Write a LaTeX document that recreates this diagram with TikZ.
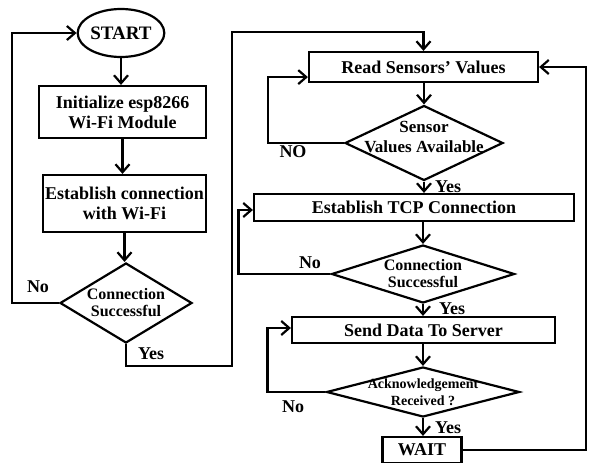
\documentclass[tikz,border=0pt]{standalone}
\usepackage{fontspec}
\setmainfont{Liberation Serif}
\usetikzlibrary{arrows.meta,shapes.geometric}

\tikzset{
	heavy/.style={line width=2.2pt},
	box/.style={draw, heavy, rectangle, inner sep=2pt, align=center, font=\fontsize{18}{20}\selectfont\bfseries},
	decision/.style={draw, heavy, diamond, inner sep=0pt},
	dtext/.style={align=center, inner sep=0pt, font=\fontsize{16}{17}\selectfont\bfseries},
	flow/.style={heavy, -{Straight Barb[length=8pt,width=14pt]}},
	lbl/.style={font=\fontsize{18}{20}\selectfont\bfseries, inner sep=0pt}
}

\begin{document}
\begin{tikzpicture}[x=1pt, y=-1pt]

			\useasboundingbox (0, 0) rectangle (589, 463);

			% left column
			\node[draw, heavy, ellipse, minimum width=81pt, minimum height=48pt, inner sep=0pt,
				font=\fontsize{19}{20}\selectfont\bfseries] (start) at (121, 33) {START};
			\node[box, minimum width=167pt, minimum height=52pt] (init) at (122.5, 112)
				{Initialize esp8266\\Wi-Fi Module};
			\node[box, minimum width=163pt, minimum height=57pt] (wifi) at (124.5, 203.5)
				{Establish connection\\with Wi-Fi};
			\node[decision, minimum width=132pt, minimum height=80pt,
				label={[dtext]center:Connection\\Successful}] (conn1) at (126, 303) {};

			% right column
			\node[box, minimum width=229pt, minimum height=30pt] (read) at (423.5, 67) {Read Sensors' Values};
			\node[decision, minimum width=158pt, minimum height=75pt,
				label={[dtext, font=\fontsize{17}{20}\selectfont\bfseries, yshift=6pt]center:Sensor\\Values Available}] (avail) at (424, 143) {};
			\node[box, minimum width=320pt, minimum height=27pt] (tcp) at (414, 207.5) {Establish TCP Connection};
			\node[decision, minimum width=183pt, minimum height=58pt,
				label={[dtext]center:Connection\\Successful}] (conn2) at (423, 274) {};
			\node[box, minimum width=263pt, minimum height=26pt] (send) at (423.5, 330) {Send Data To Server};
			\node[decision, minimum width=193pt, minimum height=50pt,
				label={[dtext, font=\fontsize{14}{17}\selectfont\bfseries]center:Acknowledgement\\Received ?}] (ack) at (423, 392) {};
			\node[box, minimum width=79pt, minimum height=26pt] (wait) at (422, 450) {WAIT};

			\coordinate (lft) at (12, 0);
			\coordinate (bend) at (232, 366);
			\coordinate (top) at (232, 32);
			\coordinate (rgt) at (586, 0);

			% straight arrows
			\draw[flow] (start.south) -- (start.south |- init.north);
			\draw[flow] (init.south) -- (init.south |- wifi.north);
			\draw[flow] (wifi.south) -- (wifi.south |- conn1.north);
			\draw[flow] (read.south -| avail.north) -- (avail.north);
			\draw[flow] (avail.south) -- (avail.south |- tcp.north);
			\draw[flow] (tcp.south -| conn2.north) -- (conn2.north);
			\draw[flow] (conn2.south) -- (conn2.south |- send.north);
			\draw[flow] (send.south -| ack.north) -- (ack.north);
			\draw[flow] (ack.south) -- (ack.south |- wait.north);

			% loops
			\draw[flow] (conn1.west) -- (conn1.west -| lft) |- (start.west);
			\draw[flow] (conn1.south) |- (bend) -- (top) -| (read.north);
			\draw[flow] (avail.west) -- ++(-76, 0) |- ([yshift=6pt]read.south west);
			\draw[flow] (conn2.west) -- ++(-92, 0) |- ([yshift=-2.5pt]tcp.west);
			\draw[flow] (ack.west) -- ++(-58, 0) |- ([yshift=2pt]send.west);
			\draw[flow] (wait.east) -- (wait.east -| rgt) |- (read.east);

			% labels
			\node[lbl] (no1) at (38, 287) {No};
			\node[lbl] (yes1) at (151, 354) {Yes};
			\node[lbl] (no2) at (293, 152) {NO};
			\node[lbl] (yes2) at (448, 187) {Yes};
			\node[lbl] (no3) at (310, 263) {No};
			\node[lbl] (yes3) at (452, 309) {Yes};
			\node[lbl] (no4) at (293, 407) {No};
			\node[lbl] (yes4) at (448, 428) {Yes};

		\end{tikzpicture}
\end{document}
